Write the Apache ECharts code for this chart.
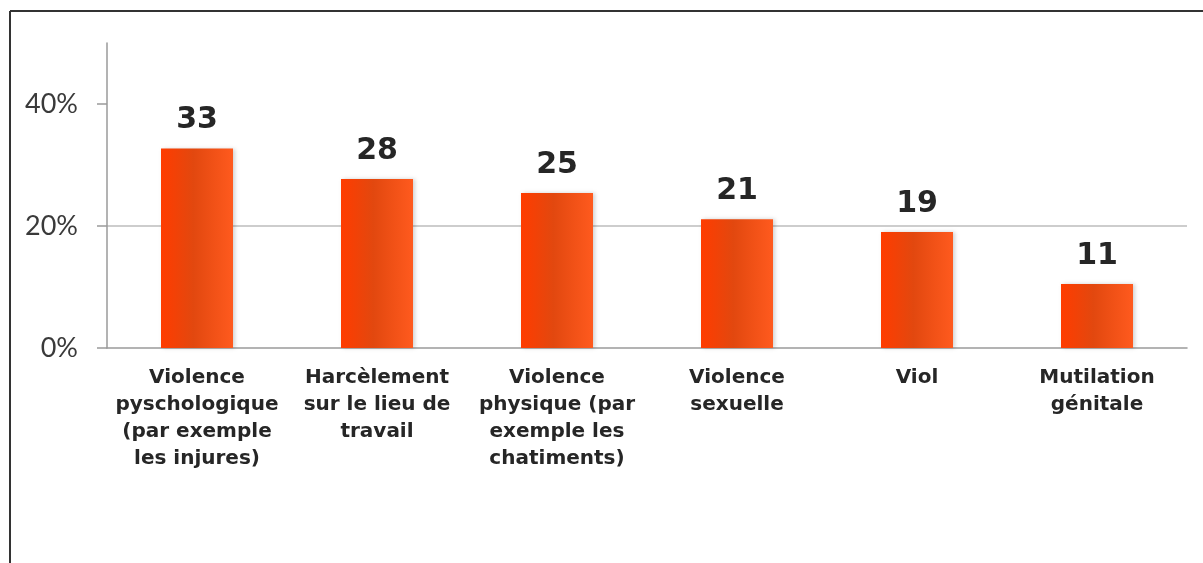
<!DOCTYPE html>
<html>
<head>
<meta charset="utf-8">
<script src="https://cdn.jsdelivr.net/npm/echarts@6/dist/echarts.min.js"></script>
<style>
    html, body { margin: 0; padding: 0; background: #fff; }
    #main { width: 1203px; height: 563px; }
</style>
</head>
<body>
<div id="main"></div>
<script>
// donnees
var categories = [
    'Violence\npyschologique\n(par exemple\nles injures)',
    'Harcèlement\nsur le lieu de\ntravail',
    'Violence\nphysique (par\nexemple les\nchatiments)',
    'Violence\nsexuelle',
    'Viol',
    'Mutilation\ngénitale'
];
var values = [32.7, 27.7, 25.4, 21.1, 19.0, 10.5];
var yTicks = [0, 20, 40];

var chart = echarts.init(document.getElementById('main'));

var option = {
    backgroundColor: '#fff',
    animation: false,
    grid: {
        left: 107,
        right: 16,
        top: 43,
        bottom: 215
    },
    graphic: [
        {
            type: 'line',
            shape: { x1: 10, y1: 11, x2: 1203, y2: 11 },
            style: { stroke: '#333', lineWidth: 2 }
        },
        {
            type: 'line',
            shape: { x1: 10, y1: 11, x2: 10, y2: 563 },
            style: { stroke: '#333', lineWidth: 2 }
        }
    ],
    xAxis: {
        type: 'category',
        data: categories,
        axisLine: { lineStyle: { color: '#9a9a9a', width: 1.5 } },
        axisTick: { length: 8, lineStyle: { color: '#9a9a9a', width: 1.5 } },
        axisLabel: {
            interval: 0,
            margin: 16,
            color: '#262626',
            fontFamily: 'DejaVu Sans',
            fontWeight: 'bold',
            fontSize: 20,
            lineHeight: 27
        }
    },
    yAxis: {
        type: 'value',
        min: 0,
        max: 50,
        interval: 20,
        axisLine: { show: true, lineStyle: { color: '#9a9a9a', width: 1.5 } },
        axisTick: {
            show: true,
            length: 10,
            customValues: yTicks,
            lineStyle: { color: '#9a9a9a', width: 1.5 }
        },
        axisLabel: {
            customValues: yTicks,
            margin: 29,
            color: '#3a3a3a',
            fontFamily: 'Lato',
            fontSize: 27,
            formatter: '{value}%'
        },
        splitLine: {
            show: true,
            showMinLine: false,
            showMaxLine: false,
            lineStyle: { color: '#bdbdbd', width: 1.5 }
        }
    },
    series: [
        {
            type: 'bar',
            data: values,
            barWidth: 72,
            itemStyle: {
                color: new echarts.graphic.LinearGradient(0, 0, 1, 0, [
                    { offset: 0, color: '#ff3c00' },
                    { offset: 0.45, color: '#e2480f' },
                    { offset: 1, color: '#ff5a1e' }
                ]),
                shadowColor: 'rgba(0,0,0,0.18)',
                shadowBlur: 4,
                shadowOffsetX: 2
            },
            label: {
                show: true,
                position: 'top',
                distance: 13,
                color: '#262626',
                fontFamily: 'DejaVu Sans',
                fontWeight: 'bold',
                fontSize: 30,
                formatter: function (p) {
                    return Math.round(p.value);
                }
            }
        }
    ]
};

chart.setOption(option);
</script>
</body>
</html>
